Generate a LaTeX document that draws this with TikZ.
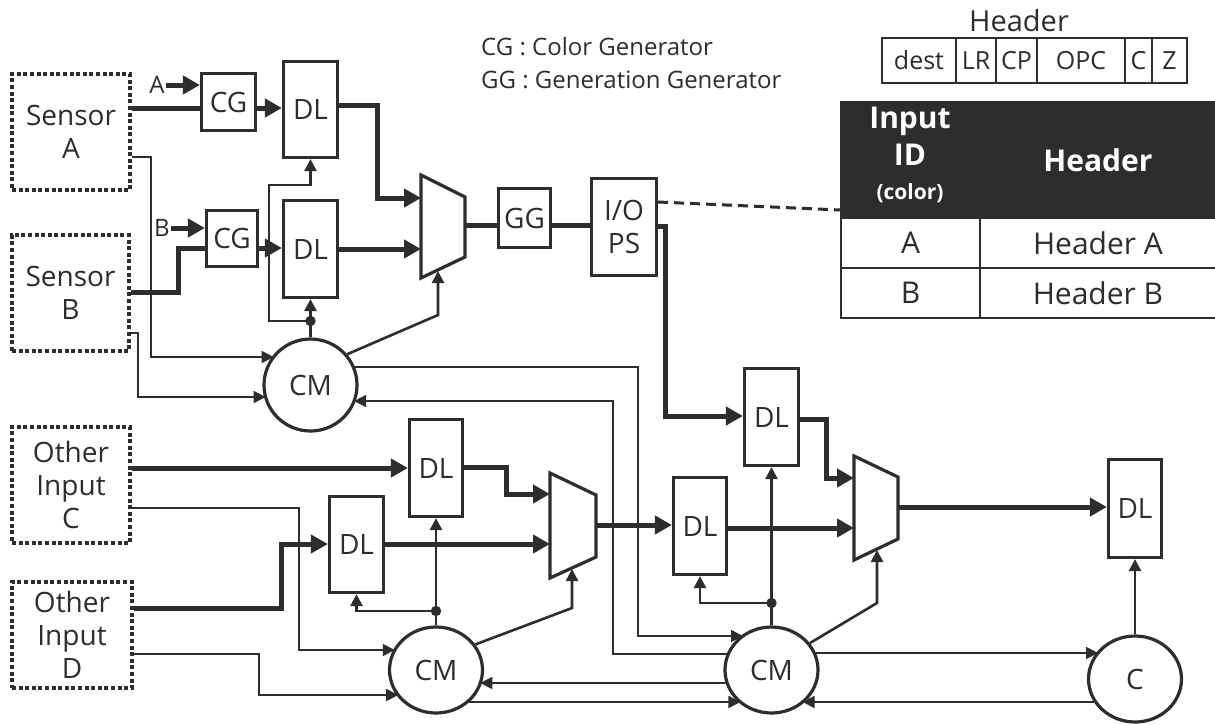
\documentclass[tikz,border=0pt]{standalone}
\usepackage{fontspec}
\setmainfont{Open Sans}
\usetikzlibrary{arrows.meta,shapes.geometric}
\definecolor{ink}{RGB}{45,45,45}
\newcommand\fmain{\fontsize{28pt}{33pt}\selectfont}
\newcommand\flab{\fontsize{24pt}{28pt}\selectfont}
\newcommand\fleg{\fontsize{24pt}{28pt}\selectfont}
\newcommand\ffld{\fontsize{25pt}{29pt}\selectfont}
\newcommand\ftab{\fontsize{30pt}{34pt}\selectfont}
\newcommand\fhd{\fontsize{30pt}{34pt}\selectfont\bfseries}
\newcommand\fsm{\fontsize{21pt}{24pt}\selectfont\bfseries}
\tikzset{
  Tb/.tip={Triangle[length=17pt,width=18pt]},
  Ts/.tip={Triangle[length=12pt,width=12pt]},
  blk/.style={draw=ink,line width=3.2pt,inner sep=0pt,font=\fmain,align=center,text=ink},
  src/.style={draw=ink,line width=4pt,dash pattern=on 4pt off 2.6pt,inner sep=0pt,font=\fmain,align=center,text=ink},
  cmn/.style={draw=ink,line width=3.2pt,shape=ellipse,inner sep=0pt,minimum width=93pt,minimum height=86pt,font=\fmain,text=ink},
  thk/.style={draw=ink,line width=5pt},
  ctl/.style={draw=ink,line width=2.6pt},
  thn/.style={draw=ink,line width=1.8pt},
  cell/.style={draw=ink,line width=1.3pt,inner sep=0pt,text=ink},
  muxs/.style={draw=ink,line width=3.2pt,line join=miter},
}
\begin{document}
\begin{tikzpicture}[x=1pt,y=-1pt]
\fill[white] (0,0) rectangle (1215,724);
\useasboundingbox (0,0) rectangle (1215,724);

% ---------- sources ----------
\node[src,minimum width=118pt,minimum height=116pt] (sA) at (71,132) {Sensor\\A};
\node[src,minimum width=117pt,minimum height=116pt] (sB) at (70.5,293) {Sensor\\B};
\node[src,minimum width=118pt,minimum height=116pt] (oC) at (71,485) {Other\\Input\\C};
\node[src,minimum width=120pt,minimum height=106pt] (oD) at (72,635) {Other\\Input\\D};

% ---------- blocks ----------
\node[blk,minimum width=54pt,minimum height=57pt] (cg1) at (228.5,102) {CG};
\node[blk,minimum width=51pt,minimum height=56pt] (cg2) at (232,238.5) {CG};
\node[blk,minimum width=54pt,minimum height=96pt] (dl1) at (310.5,109.5) {DL};
\node[blk,minimum width=54pt,minimum height=97pt] (dl2) at (310.5,249) {DL};
\node[blk,minimum width=53pt,minimum height=97pt] (dl3) at (436,468) {DL};
\node[blk,minimum width=54pt,minimum height=96pt] (dl4) at (356.5,544.5) {DL};
\node[blk,minimum width=53pt,minimum height=97pt] (dl5) at (700,526) {DL};
\node[blk,minimum width=54pt,minimum height=97pt] (dl6) at (771.5,417) {DL};
\node[blk,minimum width=53pt,minimum height=98pt] (dl7) at (1135,508.5) {DL};
\node[blk,minimum width=52pt,minimum height=59pt] (gg) at (524.5,218) {GG};
\node[blk,minimum width=65pt,minimum height=97pt] (iops) at (624,227) {I/O\\PS};

\node[cmn,minimum height=92pt] (cm1) at (310.5,385) {CM};
\node[cmn] (cm3) at (436,670) {CM};
\node[cmn] (cm2) at (771.5,670) {CM};
\node[cmn] (cc) at (1135,679) {C};

\node[font=\flab,text=ink,inner sep=1pt] (lA) at (157,85) {A};
\node[font=\flab,text=ink,inner sep=1pt] (lB) at (162,228) {B};

% ---------- muxes ----------
\draw[muxs] (421,175) -- (465,197) -- (465,257) -- (421,278) -- cycle;
\draw[muxs] (550,473) -- (596,495) -- (596,557) -- (550,578) -- cycle;
\draw[muxs] (854,456) -- (898,477) -- (898,539) -- (854,560) -- cycle;
\coordinate (m1a) at (421,198); \coordinate (m1b) at (421,249);
\coordinate (m1o) at (465,225); \coordinate (m1s) at (438,271);
\coordinate (m2a) at (550,494); \coordinate (m2b) at (550,544);
\coordinate (m2o) at (596,525); \coordinate (m2s) at (572,569);
\coordinate (m3a) at (854,478); \coordinate (m3b) at (854,528);
\coordinate (m3o) at (898,507); \coordinate (m3s) at (877,550);

% ---------- thick data paths ----------
\draw[thk] (sA.east |- 0,108) -- (cg1.west |- 0,108);
\draw[thk,-Tb] (lA.east) -- (cg1.west |- lA.east);
\draw[thk,-Tb] (cg1.east |- 0,108) -- (dl1.west |- 0,108);
\draw[thk,-Tb] (dl1.east |- 0,105) -| (377,198) -- (m1a);
\draw[thk,-Tb] (lB.east) -- (cg2.west |- lB.east);
\draw[thk] (sB.east |- 0,292) -| (178,248) -- (cg2.west |- 0,248);
\draw[thk,-Tb] (cg2.east |- 0,248) -- (dl2.west |- 0,248);
\draw[thk,-Tb] (dl2.east |- m1b) -- (m1b);
\draw[thk] (m1o) -- (gg.west |- m1o);
\draw[thk] (gg.east |- m1o) -- (iops.west |- m1o);
\draw[thk,-Tb] (iops.east |- 0,226) -| (665,416) -- (dl6.west |- 0,416);
\draw[thk,-Tb] (oC.east |- 0,468) -- (dl3.west |- 0,468);
\draw[thk,-Tb] (oD.east |- 0,608) -| (281,544) -- (dl4.west |- 0,544);
\draw[thk,-Tb] (dl3.east |- 0,467) -| (506,494) -- (m2a);
\draw[thk,-Tb] (dl4.east |- m2b) -- (m2b);
\draw[thk,-Tb] (m2o) -- (dl5.west |- m2o);
\draw[thk,-Tb] (dl5.east |- m3b) -- (m3b);
\draw[thk,-Tb] (dl6.east |- 0,419) -| (826,478) -- (m3a);
\draw[thk,-Tb] (m3o) -- (dl7.west |- m3o);

% ---------- control paths ----------
\coordinate (d1) at (310.5,321);
\coordinate (d3) at (436,611);
\coordinate (d2) at (771.5,603);
\draw[ctl,-Ts] (cm1.north) -- (dl2.south);
\draw[ctl,-Ts] (d1) -| (269,185) -| (dl1.south);
\draw[ctl,-Ts] (cm1.40) -- (438,315) -- (m1s);
\draw[ctl,-Ts] (cm3.north) -- (dl3.south);
\draw[ctl,-Ts] (d3) -| (dl4.south);
\draw[ctl,-Ts] (cm3.33) -- (572,608) -- (m2s);
\draw[ctl,-Ts] (cm2.north) -- (dl6.south);
\draw[ctl,-Ts] (d2) -| (dl5.south);
\draw[ctl,-Ts] (cm2.35) -- (877,603) -- (m3s);
\draw[ctl,-Ts] (cc.north) -- (dl7.south);
\foreach \d in {d1,d2,d3} \fill[ink] (\d) circle[radius=5.2pt];

% ---------- thin paths ----------
\draw[thn,-Ts] (sA.east |- 0,157) -| (151,357) -- ([shift={(-36.9,-28)}]cm1.center);
\draw[thn,-Ts] (sB.east |- 0,333) -| (138,397) -- ([shift={(-44.9,12)}]cm1.center);
\draw[thn,-Ts] ([shift={(42.8,-18)}]cm1.center) -| (638,636) -- ([shift={(-28.5,-34)}]cm2.center);
\draw[thn,-Ts] ([shift={(-43.2,-16)}]cm2.center) -| (613,401) -- ([shift={(43.6,16)}]cm1.center);
\draw[thn,-Ts] (oC.east |- 0,508) -| (299,650) -- ([shift={(-41.2,-20)}]cm3.center);
\draw[thn,-Ts] (oD.east |- 0,654) -| (259,695) -- ([shift={(-37.8,25)}]cm3.center);
\draw[thn,-Ts] ([shift={(-44.3,13)}]cm2.center) -- ([shift={(44.3,13)}]cm3.center);
\draw[thn,-Ts] ([shift={(31.1,32)}]cm3.center) -- ([shift={(-31.1,32)}]cm2.center);
\draw[thn,-Ts] ([shift={(42.7,-17)}]cm2.center) -- ([shift={(-37,-26)}]cc.center);
\draw[thn,-Ts] ([shift={(-39.3,23)}]cc.center) -- ([shift={(31.1,32)}]cm2.center);

% ---------- legend ----------
\node[font=\fleg,text=ink,anchor=west,inner sep=0pt] (lg1) at (481,47) {CG~:~Color Generator};
\node[font=\fleg,text=ink,anchor=west,inner sep=0pt] (lg2) at (481,80) {GG~:~Generation Generator};

% ---------- header fields ----------
\node[font=\fontsize{29pt}{32pt}\selectfont,text=ink,inner sep=0pt] (htitle) at (1019,21) {Header};
\node[cell,font=\ffld,minimum width=74pt,minimum height=45pt] (fd) at (919,60.5) {dest};
\node[cell,font=\ffld,minimum width=40pt,minimum height=45pt] (flr) at (976,60.5) {LR};
\node[cell,font=\ffld,minimum width=41pt,minimum height=45pt] (fcp) at (1016.5,60.5) {CP};
\node[cell,font=\ffld,minimum width=88pt,minimum height=45pt] (fop) at (1081,60.5) {OPC};
\node[cell,font=\ffld,minimum width=27pt,minimum height=45pt] (fc) at (1138.5,60.5) {C};
\node[cell,font=\ffld,minimum width=35pt,minimum height=45pt] (fz) at (1169.5,60.5) {Z};

% ---------- lookup table ----------
\node[fill=ink,draw=ink,line width=1.3pt,minimum width=374pt,minimum height=116pt,inner sep=0pt] (th) at (1028,160) {};
\node[font=\fhd,text=white,inner sep=0pt] (thi) at (910,121) {Input};
\node[font=\fhd,text=white,inner sep=0pt] (thd) at (910,155) {ID};
\node[font=\fsm,text=white,inner sep=0pt] (thc) at (910,193) {(color)};
\node[font=\fhd,text=white,inner sep=0pt] (thh) at (1098,160) {Header};
\node[cell,font=\ftab,minimum width=139pt,minimum height=50pt] (ta1) at (910.5,243) {A};
\node[cell,font=\ftab,minimum width=236pt,minimum height=50pt] (ta2) at (1098,243) {Header A};
\node[cell,font=\ftab,minimum width=139pt,minimum height=50pt] (tb1) at (910.5,293) {B};
\node[cell,font=\ftab,minimum width=236pt,minimum height=50pt] (tb2) at (1098,293) {Header B};

\draw[ink,line width=3pt,dash pattern=on 10pt off 6pt] (iops.east |- 0,202) -- (th.west |- 0,210);
\end{tikzpicture}
\end{document}
